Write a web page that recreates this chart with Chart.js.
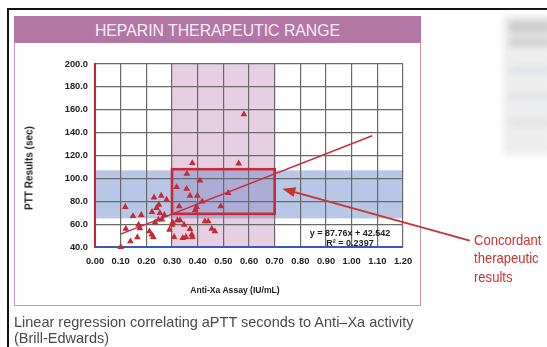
<!DOCTYPE html>
<html>
<head>
<meta charset="utf-8">
<script src="https://cdn.jsdelivr.net/npm/chart.js@4/dist/chart.umd.min.js"></script>
<style>
  body { margin: 0; background: #fff; font-family: "Liberation Sans", Arial, sans-serif; }
  #page { position: relative; width: 547px; height: 347px; overflow: hidden; background: #fff; }
  .abs { position: absolute; }
  #blackTop { left: 8px; top: 8px; width: 539px; height: 2px; background: #111; }
  #blackLeft { left: 7px; top: 8px; width: 2px; height: 339px; background: #111; }
  #frame { left: 14px; top: 16px; width: 405px; height: 288px; border: 1.5px solid #c992c0; }
  #titleBand { left: 14px; top: 16px; width: 407px; height: 27px; background: #b377a6; color: #f6edf4;
    font-size: 15.8px; line-height: 29px; text-align: center; }
  #chart { left: 0; top: 0; }
  #yTitle { left: 29px; top: 168px; transform: translate(-50%, -50%) rotate(-90deg); font-weight: bold;
    font-size: 10px; color: #222; white-space: nowrap; }
  #xTitle { left: 235px; top: 290px; transform: translate(-50%, -50%); font-weight: bold; font-size: 8.6px;
    color: #222; white-space: nowrap; }
  .eq { left: 350px; transform: translate(-50%, -50%); font-weight: bold; font-size: 9px; color: #222; white-space: nowrap; }
  #note { left: 474px; top: 231px; color: #c6352f; font-size: 14.5px; line-height: 18.3px;
    transform: scaleX(0.9); transform-origin: left top; }
  #caption { left: 14px; top: 314px; color: #4a4a4a; font-size: 14.5px; line-height: 16px; }
  #blur { left: 503px; top: 15px; width: 48px; height: 140px; filter: blur(3px); background: #ededed; }
  #blur div { position: absolute; left: 6px; right: 0; background: #d6d6d6; }
</style>
</head>
<body>
<div id="page">
  <div id="blackTop" class="abs"></div>
  <div id="blackLeft" class="abs"></div>
  <div id="frame" class="abs"></div>
  <div id="titleBand" class="abs">HEPARIN THERAPEUTIC RANGE</div>
  <div id="blur" class="abs">
    <div style="top:6px;height:12px;background:#cbcbcb"></div>
    <div style="top:22px;height:10px;background:#d2d2d2"></div>
    <div style="top:52px;height:7px;background:#e0e2e6"></div>
    <div style="top:78px;height:7px;background:#e0e2e6"></div>
    <div style="top:104px;height:7px;background:#e2e2e2"></div>
  </div>
  <canvas id="chart" class="abs" width="547" height="347"></canvas>
  <div id="yTitle" class="abs">PTT Results (sec)</div>
  <div id="xTitle" class="abs">Anti-Xa Assay (IU/mL)</div>
  <div class="abs eq" style="top:233px">y = 87.76x + 42.542</div>
  <div class="abs eq" style="top:243px">R² = 0.2397</div>
  <div id="note" class="abs">Concordant<br>therapeutic<br>results</div>
  <div id="caption" class="abs">Linear regression correlating aPTT seconds to Anti–Xa activity<br>(Brill-Edwards)</div>
</div>
<script>
// anti-Xa (IU/mL) vs PTT (sec)
const antiXa = [0.10, 0.12, 0.118, 0.138, 0.148, 0.165, 0.17, 0.175, 0.18, 0.212, 0.221, 0.227, 0.222, 0.23,
  0.234, 0.24, 0.247, 0.249, 0.253, 0.258, 0.261, 0.27, 0.279, 0.29, 0.301, 0.303, 0.308, 0.318, 0.321, 0.331,
  0.328, 0.342, 0.347, 0.354, 0.357, 0.358, 0.37, 0.37, 0.377, 0.379, 0.379, 0.396, 0.39, 0.399, 0.409, 0.418,
  0.428, 0.441, 0.455, 0.467, 0.49, 0.519, 0.56, 0.58];
const ptt = [40, 56, 75, 45, 67, 48.5, 59.5, 56.3, 68, 53.7, 50.8, 48.8, 70.6, 83.3,
  61.5, 74.1, 63.9, 77, 69.7, 84.8, 63.9, 68, 81.3, 55.1, 59.5, 61.5, 48.8, 92.4, 63.3, 63.3,
  75.5, 47.9, 59.5, 48.8, 90.9, 104, 84.8, 55.7, 50.8, 48.8, 113.4, 75, 72, 84.8, 98, 79.8,
  62.4, 62.4, 56, 53.7, 75.5, 87.2, 113, 156];
const trendX = [0.10, 1.08];
const trendY = [51.3, 137.3];
const xTicks = [0, 1.2, 0.1];     // min, max, step
const yTicks = [40, 200, 20];
const antiXaRange = [0.3, 0.7];   // pink band
const pttRange = [65, 107];       // blue band
const boxX = [0.3, 0.7];
const boxY = [69, 108];
const arrowFrom = [1.46, 45.6];
const arrowTo = [0.73, 91];

const red = '#c62a35';

const bands = {
  id: 'bands',
  beforeDraw(chart) {
    const { ctx, chartArea: a, scales: { x, y } } = chart;
    ctx.save();
    ctx.fillStyle = '#e6cfe2';
    const x0 = x.getPixelForValue(antiXaRange[0]);
    ctx.fillRect(x0, a.top, x.getPixelForValue(antiXaRange[1]) - x0, a.bottom - a.top);
    ctx.fillStyle = 'rgba(100,130,200,0.45)';
    const y1 = y.getPixelForValue(pttRange[1]);
    ctx.fillRect(a.left, y1, a.right - a.left, y.getPixelForValue(pttRange[0]) - y1);
    ctx.restore();
  },
  beforeDatasetsDraw(chart) {
    const { ctx, scales: { x, y } } = chart;
    ctx.save();
    ctx.strokeStyle = red;
    ctx.lineWidth = 2.6;
    const l = x.getPixelForValue(boxX[0]);
    const t = y.getPixelForValue(boxY[1]);
    ctx.strokeRect(l, t, x.getPixelForValue(boxX[1]) - l, y.getPixelForValue(boxY[0]) - t);
    ctx.restore();
  },
  afterDraw(chart) {
    const { ctx, scales: { x, y } } = chart;
    const fx = x.getPixelForValue(arrowFrom[0]);
    const fy = y.getPixelForValue(arrowFrom[1]);
    const tx = x.getPixelForValue(arrowTo[0]);
    const ty = y.getPixelForValue(arrowTo[1]);
    const ang = Math.atan2(ty - fy, tx - fx);
    ctx.save();
    ctx.strokeStyle = '#c8352d';
    ctx.fillStyle = '#c8352d';
    ctx.lineWidth = 1.9;
    ctx.beginPath();
    ctx.moveTo(fx, fy);
    ctx.lineTo(tx - Math.cos(ang) * 8, ty - Math.sin(ang) * 8);
    ctx.stroke();
    ctx.translate(tx, ty);
    ctx.rotate(ang);
    ctx.beginPath();
    ctx.moveTo(0, 0);
    ctx.lineTo(-13, -5);
    ctx.lineTo(-13, 5);
    ctx.closePath();
    ctx.fill();
    ctx.restore();
  }
};

const tickFont = { family: 'Liberation Sans, Arial', size: 9.3, weight: 'bold' };

new Chart(document.getElementById('chart'), {
  type: 'scatter',
  data: {
    datasets: [
      {
        data: antiXa.map((v, i) => ({ x: v, y: ptt[i] })),
        pointStyle: 'triangle',
        pointRadius: 3.9,
        pointBackgroundColor: red,
        pointBorderWidth: 0,
        clip: false
      },
      {
        type: 'line',
        data: trendX.map((v, i) => ({ x: v, y: trendY[i] })),
        borderColor: '#c8303a',
        borderWidth: 1.5,
        pointRadius: 0
      }
    ]
  },
  options: {
    responsive: false,
    devicePixelRatio: 1,
    animation: false,
    layout: { padding: { top: 64, left: 40, right: 144, bottom: 0 } },
    plugins: { legend: { display: false }, tooltip: { enabled: false } },
    scales: {
      x: {
        type: 'linear',
        min: xTicks[0],
        max: xTicks[1],
        afterFit: (s) => { s.height = 100; },
        ticks: {
          stepSize: xTicks[2],
          autoSkip: false,
          maxRotation: 0,
          maxTicksLimit: 30,
          padding: 9,
          color: '#222',
          font: tickFont,
          callback: (v) => v.toFixed(2)
        },
        grid: { color: '#6a6a6a', lineWidth: 1.2, drawTicks: false },
        border: { color: '#3a59b8', width: 2 }
      },
      y: {
        min: yTicks[0],
        max: yTicks[1],
        afterFit: (s) => { s.width = 55; },
        ticks: {
          stepSize: yTicks[2],
          maxTicksLimit: 30,
          padding: 7,
          color: '#222',
          font: tickFont,
          callback: (v) => v.toFixed(1)
        },
        grid: { color: '#6a6a6a', lineWidth: 1.2, drawTicks: false },
        border: { color: '#d0202a', width: 2 }
      }
    }
  },
  plugins: [bands]
});
</script>
</body>
</html>
